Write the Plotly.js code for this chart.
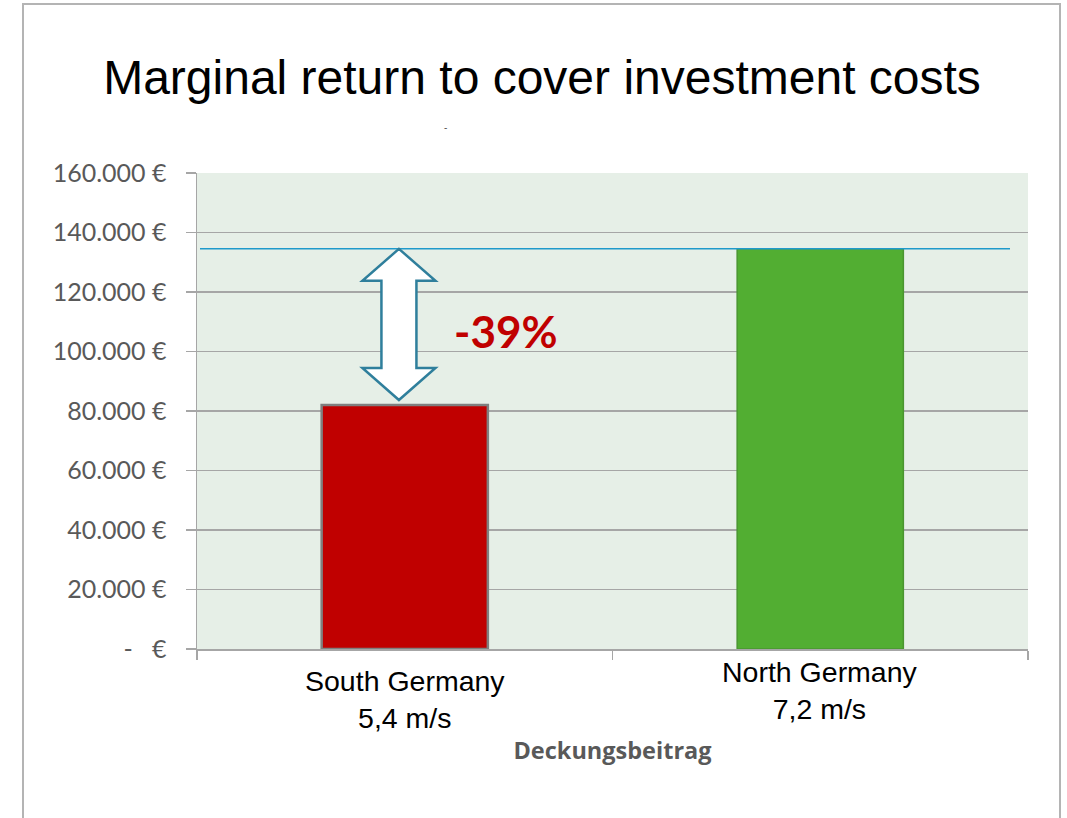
<!DOCTYPE html>
<html>
<head>
<meta charset="utf-8">
<script src="https://cdn.plot.ly/plotly-3.0.1.min.js"></script>
<style>html,body{margin:0;padding:0;background:#fff;}#chart{width:1067px;height:818px;}</style>
</head>
<body>
<div id="chart"></div>
<script>
// ---- data ----
const categories = ["South Germany", "North Germany"];
const windSpeeds = ["5,4 m/s", "7,2 m/s"];
const values = [82000, 134500];
const barColors = ["#c00000", "#52ae32"];
const yTickVals = [0, 20000, 40000, 60000, 80000, 100000, 120000, 140000, 160000];
const yTickText = ["-   €", "20.000 €", "40.000 €", "60.000 €", "80.000 €", "100.000 €", "120.000 €", "140.000 €", "160.000 €"];
const chartTitle = "Marginal return to cover investment costs";
const xTitle = "Deckungsbeitrag";

// ---- geometry helpers (plot area in px) ----
const W = 1067, H = 818;
const L = 197, R = 1028, T = 173, B = 649;
const pw = R - L, ph = B - T;
const yMax = 160000;
const px2px = x => (x - L) / pw;        // pixel x -> paper x
const py2py = y => (B - y) / ph;        // pixel y -> paper y
const pxH2data = h => h / ph * yMax;    // pixel height -> data units

const south = values[0], north = values[1];
const pct = Math.round((south / north - 1) * 100);

// double-headed arrow between north level and top of south bar
const ax = (0 + 0.5 - 0.014) / categories.length;
const headHalf = 36.5 / pw, shaftHalf = 17.5 / pw;
const headH = pxH2data(32);
const yTop = north, yBot = south + pxH2data(5);
const arrowPath = [
  `M ${ax} ${yTop}`,
  `L ${ax + headHalf} ${yTop - headH}`,
  `L ${ax + shaftHalf} ${yTop - headH}`,
  `L ${ax + shaftHalf} ${yBot + headH}`,
  `L ${ax + headHalf} ${yBot + headH}`,
  `L ${ax} ${yBot}`,
  `L ${ax - headHalf} ${yBot + headH}`,
  `L ${ax - shaftHalf} ${yBot + headH}`,
  `L ${ax - shaftHalf} ${yTop - headH}`,
  `L ${ax - headHalf} ${yTop - headH}`,
  'Z'
].join(' ');

const trace = {
  type: 'bar',
  x: categories,
  y: values,
  marker: {
    color: barColors,
    line: { color: ["#7f7f7f", "#4a9630"], width: [2.5, 1.5] }
  },
  hoverinfo: 'skip'
};

const gray = '#a6a6a6';
const layout = {
  width: W, height: H,
  margin: { l: L, r: W - R, t: T, b: H - B, pad: 0 },
  paper_bgcolor: '#ffffff',
  plot_bgcolor: '#e6efe7',
  showlegend: false,
  bargap: 0.6,
  title: {
    text: chartTitle,
    font: { family: 'Liberation Sans, Arial, sans-serif', size: 48, color: '#000' },
    x: 542 / W, xanchor: 'center',
    y: 1 - 77 / H, yanchor: 'middle', yref: 'container'
  },
  xaxis: {
    type: 'category',
    showticklabels: false,
    showline: true, linecolor: gray, linewidth: 1.5,
    ticks: 'outside', tickson: 'boundaries', ticklen: 9, tickcolor: gray, tickwidth: 1.5,
    showgrid: false,
    title: {
      text: '<b>' + xTitle + '</b>',
      font: { family: 'Open Sans, Lato, sans-serif', size: 23.5, color: '#595959' },
      standoff: 93
    },
    fixedrange: true
  },
  yaxis: {
    range: [0, yMax],
    tickvals: yTickVals,
    ticktext: yTickText,
    tickfont: { family: 'Lato, Open Sans, sans-serif', size: 25, color: '#595959' },
    ticks: 'outside', ticklen: 10, tickcolor: gray, tickwidth: 1.5,
    ticklabelstandoff: 14,
    showline: true, linecolor: gray, linewidth: 1.5,
    showgrid: true, gridcolor: gray, gridwidth: 1.5,
    zeroline: false,
    fixedrange: true
  },
  shapes: [
    // slide frame
    { type: 'path', xref: 'paper', yref: 'paper',
      path: `M ${px2px(23)} ${py2py(H + 5)} L ${px2px(23)} ${py2py(4)} L ${px2px(1060)} ${py2py(4)} L ${px2px(1060)} ${py2py(H + 5)}`,
      line: { color: '#b4b4b4', width: 2 }, layer: 'above' },
    // reference line at north level
    { type: 'line', xref: 'paper', yref: 'y',
      x0: px2px(200), x1: px2px(1010), y0: north, y1: north,
      line: { color: '#1f9acb', width: 1.5 }, layer: 'above' },
    // double arrow
    { type: 'path', xref: 'paper', yref: 'y', path: arrowPath,
      fillcolor: '#ffffff', line: { color: '#2f7f9c', width: 2.5 }, layer: 'above' }
  ],
  annotations: [
    { xref: 'x', yref: 'paper', x: categories[0], y: -(699 - B) / ph, yanchor: 'middle',
      text: categories[0] + '<br>' + windSpeeds[0], showarrow: false, align: 'center',
      font: { family: 'Liberation Sans, Arial, sans-serif', size: 28.5, color: '#000' } },
    { xref: 'x', yref: 'paper', x: categories[1], y: -(690 - B) / ph, yanchor: 'middle',
      text: categories[1] + '<br>' + windSpeeds[1], showarrow: false, align: 'center',
      font: { family: 'Liberation Sans, Arial, sans-serif', size: 28.5, color: '#000' } },
    { xref: 'paper', yref: 'paper', x: px2px(506), y: py2py(331),
      text: '<b>' + pct + '%</b>', showarrow: false, xanchor: 'center', yanchor: 'middle',
      font: { family: 'Lato, Open Sans, sans-serif', size: 44, color: '#c00000' } },
    { xref: 'paper', yref: 'paper', x: px2px(445), y: py2py(128),
      text: '-', showarrow: false, xanchor: 'center', yanchor: 'middle',
      font: { family: 'Liberation Sans, Arial, sans-serif', size: 10, color: '#555' } }
  ]
};

Plotly.newPlot('chart', [trace], layout, { displayModeBar: false, staticPlot: true });
</script>
</body>
</html>
